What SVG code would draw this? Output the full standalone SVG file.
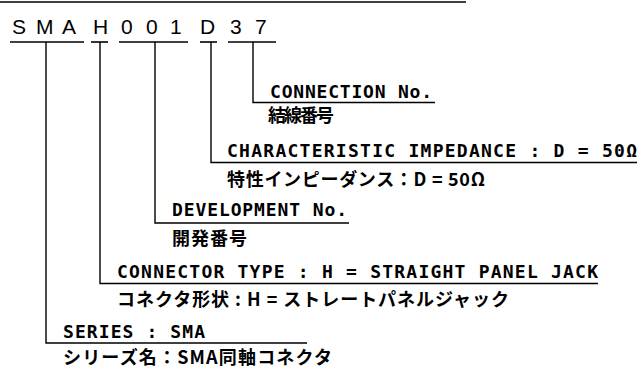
<svg xmlns="http://www.w3.org/2000/svg" width="644" height="382" viewBox="0 0 644 382">
<style>
.ln{stroke:#000;stroke-width:1.4;fill:none}
.code{font-family:"Liberation Sans",Arial,sans-serif;font-size:21px;fill:#000}
.en{font-family:"DejaVu Sans Mono",monospace;font-weight:bold;font-size:18px;fill:#000}
.jp{font-family:"Noto Sans CJK JP","Noto Sans CJK SC",sans-serif;font-weight:bold;font-size:18px;fill:#000}
</style>
<rect width="644" height="382" fill="#fff"/>
<line class="ln" x1="0" y1="2" x2="466" y2="2" style="stroke-width:1.6"/>
<g id="code">
<text class="code" x="12 36 62 93 121 146 170 200 230 255" y="34">SMAH001D37</text>
<g class="ln" style="stroke-width:1.6">
<line x1="10" y1="42" x2="84" y2="42"/>
<line x1="91" y1="42" x2="108" y2="42"/>
<line x1="119" y1="42" x2="188" y2="42"/>
<line x1="200" y1="42" x2="217" y2="42"/>
<line x1="228" y1="42" x2="276" y2="42"/>
</g>
</g>
<g id="connectors" class="ln">
<polyline points="253,42 253,102.5 435,102.5"/>
<polyline points="211,42 211,162.5 637,162.5"/>
<polyline points="155,42 155,223 349,223"/>
<polyline points="100,42 100,283.5 598,283.5"/>
<polyline points="46,42 46,343 307,343"/>
</g>
<g id="connection">
<text class="en" x="270" y="98" textLength="162" lengthAdjust="spacing">CONNECTION No.</text>
<text class="jp" x="268" y="122" textLength="66" lengthAdjust="spacing">結線番号</text>
</g>
<g id="impedance">
<text class="en" x="227" y="157" textLength="410" lengthAdjust="spacing">CHARACTERISTIC IMPEDANCE : D = 50Ω</text>
<text class="jp" x="227" y="186" textLength="258" lengthAdjust="spacing">特性インピーダンス：D = 50Ω</text>
</g>
<g id="development">
<text class="en" x="172" y="216" textLength="175" lengthAdjust="spacing">DEVELOPMENT No.</text>
<text class="jp" x="172" y="245" textLength="75" lengthAdjust="spacing">開発番号</text>
</g>
<g id="type">
<text class="en" x="117" y="278" textLength="481" lengthAdjust="spacing">CONNECTOR TYPE : H = STRAIGHT PANEL JACK</text>
<text class="jp" x="117" y="306" textLength="392" lengthAdjust="spacing">コネクタ形状 : H = ストレートパネルジャック</text>
</g>
<g id="series">
<text class="en" x="63" y="338" textLength="142" lengthAdjust="spacing">SERIES : SMA</text>
<text class="jp" x="63" y="364" textLength="269" lengthAdjust="spacing">シリーズ名：SMA同軸コネクタ</text>
</g>
</svg>
